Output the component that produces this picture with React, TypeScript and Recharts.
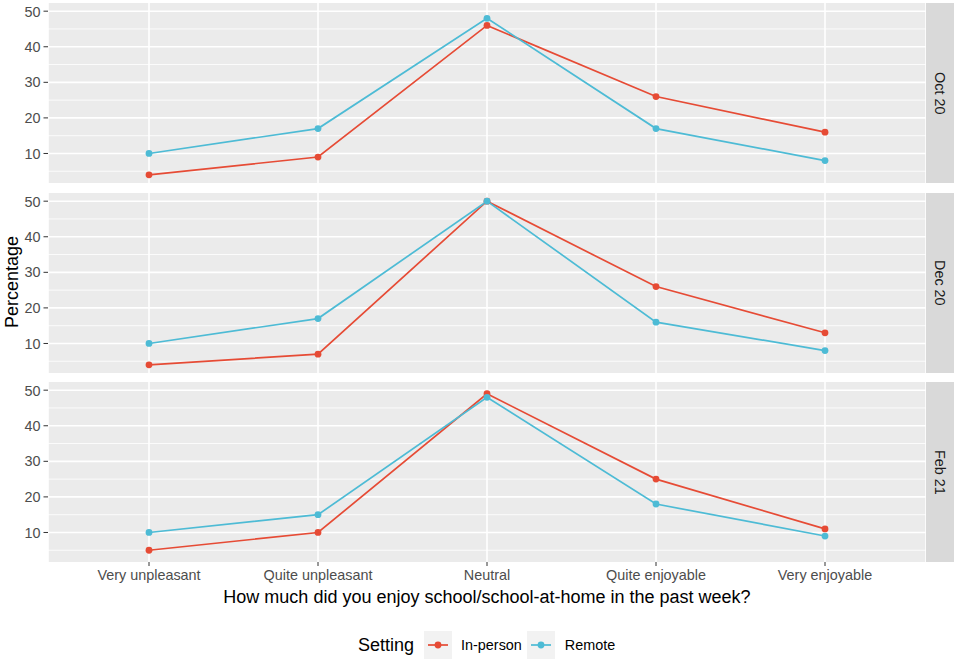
import { LineChart, Line, XAxis, YAxis, CartesianGrid } from "recharts";

const categories = [
  "Very unpleasant",
  "Quite unpleasant",
  "Neutral",
  "Quite enjoyable",
  "Very enjoyable",
];
const waves = ["Oct 20", "Dec 20", "Feb 21"];

const inPersonOct = [4, 9, 46, 26, 16];
const remoteOct = [10, 17, 48, 17, 8];
const inPersonDec = [4, 7, 50, 26, 13];
const remoteDec = [10, 17, 50, 16, 8];
const inPersonFeb = [5, 10, 49, 25, 11];
const remoteFeb = [10, 15, 48, 18, 9];

const yTicks = [10, 20, 30, 40, 50];
const yMinor = [5, 15, 25, 35, 45];

const RED = "#E64B35";
const BLUE = "#4DBBD5";
const FONT = '"Liberation Sans", Arial, sans-serif';

const panelTops = [3, 192.5, 382];
const PANEL_H = 180;

function Panel({
  top,
  wave,
  inPerson,
  remote,
  showX,
}: {
  top: number;
  wave: string;
  inPerson: number[];
  remote: number[];
  showX: boolean;
}) {
  const rows = categories.map((c, i) => ({
    category: c,
    inPerson: inPerson[i],
    remote: remote[i],
  }));
  return (
    <>
      <div style={{ position: "absolute", left: 0, top }}>
        <LineChart
          width={957}
          height={showX ? PANEL_H + 30 : PANEL_H}
          data={rows}
          margin={{ top: 0, right: 31, bottom: 0, left: 8 }}
        >
          <CartesianGrid
            fill="#EBEBEB"
            stroke="#FFFFFF"
            strokeWidth={0.8}
            vertical={false}
            horizontalValues={yMinor}
          />
          <CartesianGrid
            stroke="#FFFFFF"
            strokeWidth={1.6}
            horizontalValues={yTicks}
          />
          <XAxis
            dataKey="category"
            hide={!showX}
            interval={0}
            padding={{ left: 101, right: 101 }}
            axisLine={false}
            tickLine={{ stroke: "#333333" }}
            tickSize={4}
            tickMargin={4}
            height={30}
            tick={{ fill: "#4D4D4D", fontSize: 14.4, fontFamily: FONT }}
          />
          <YAxis
            type="number"
            domain={[1.7, 52.3]}
            ticks={yTicks}
            allowDataOverflow
            width={40}
            axisLine={false}
            tickLine={{ stroke: "#333333" }}
            tickSize={4.5}
            tickMargin={3}
            tick={{ fill: "#4D4D4D", fontSize: 14.4, fontFamily: FONT }}
          />
          <Line
            dataKey="inPerson"
            stroke={RED}
            strokeWidth={1.7}
            dot={{ r: 3.4, fill: RED, stroke: "none" }}
            activeDot={false}
            isAnimationActive={false}
          />
          <Line
            dataKey="remote"
            stroke={BLUE}
            strokeWidth={1.7}
            dot={{ r: 3.4, fill: BLUE, stroke: "none" }}
            activeDot={false}
            isAnimationActive={false}
          />
        </LineChart>
      </div>
      <div
        style={{
          position: "absolute",
          left: 926,
          top,
          width: 27.5,
          height: PANEL_H,
          background: "#D9D9D9",
          display: "flex",
          alignItems: "center",
          justifyContent: "center",
        }}
      >
        <span
          style={{
            writingMode: "vertical-rl",
            fontSize: 14.4,
            color: "#1A1A1A",
            fontFamily: FONT,
          }}
        >
          {wave}
        </span>
      </div>
    </>
  );
}

function LegendKey({ color }: { color: string }) {
  return (
    <svg width={28} height={28} style={{ display: "block" }}>
      <rect x={0} y={0} width={28} height={28} fill="#F2F2F2" />
      <line x1={4} y1={14} x2={24} y2={14} stroke={color} strokeWidth={1.7} />
      <circle cx={14} cy={14} r={3.4} fill={color} />
    </svg>
  );
}

export default function App() {
  const inPersonSets = [inPersonOct, inPersonDec, inPersonFeb];
  const remoteSets = [remoteOct, remoteDec, remoteFeb];
  return (
    <div
      style={{
        position: "absolute",
        left: 0,
        top: 0,
        width: 957,
        height: 663,
        background: "#FFFFFF",
        fontFamily: FONT,
      }}
    >
      {waves.map((w, i) => (
        <Panel
          key={w}
          top={panelTops[i]}
          wave={w}
          inPerson={inPersonSets[i]}
          remote={remoteSets[i]}
          showX={i === waves.length - 1}
        />
      ))}
      <div
        style={{
          position: "absolute",
          left: 12,
          top: 282,
          transform: "translate(-50%, -50%) rotate(-90deg)",
          fontSize: 18,
          color: "#000000",
          whiteSpace: "nowrap",
        }}
      >
        Percentage
      </div>
      <div
        style={{
          position: "absolute",
          left: 487,
          top: 597,
          transform: "translate(-50%, -50%)",
          fontSize: 18,
          color: "#000000",
          whiteSpace: "nowrap",
        }}
      >
        How much did you enjoy school/school-at-home in the past week?
      </div>
      <div
        style={{
          position: "absolute",
          left: 358,
          top: 631,
          height: 28,
          display: "flex",
          alignItems: "center",
          whiteSpace: "nowrap",
        }}
      >
        <span style={{ fontSize: 18, color: "#000000", marginRight: 10 }}>Setting</span>
        <LegendKey color={RED} />
        <span style={{ fontSize: 14.4, color: "#000000", marginLeft: 9, marginRight: 5 }}>
          In-person
        </span>
        <LegendKey color={BLUE} />
        <span style={{ fontSize: 14.4, color: "#000000", marginLeft: 10 }}>Remote</span>
      </div>
    </div>
  );
}
